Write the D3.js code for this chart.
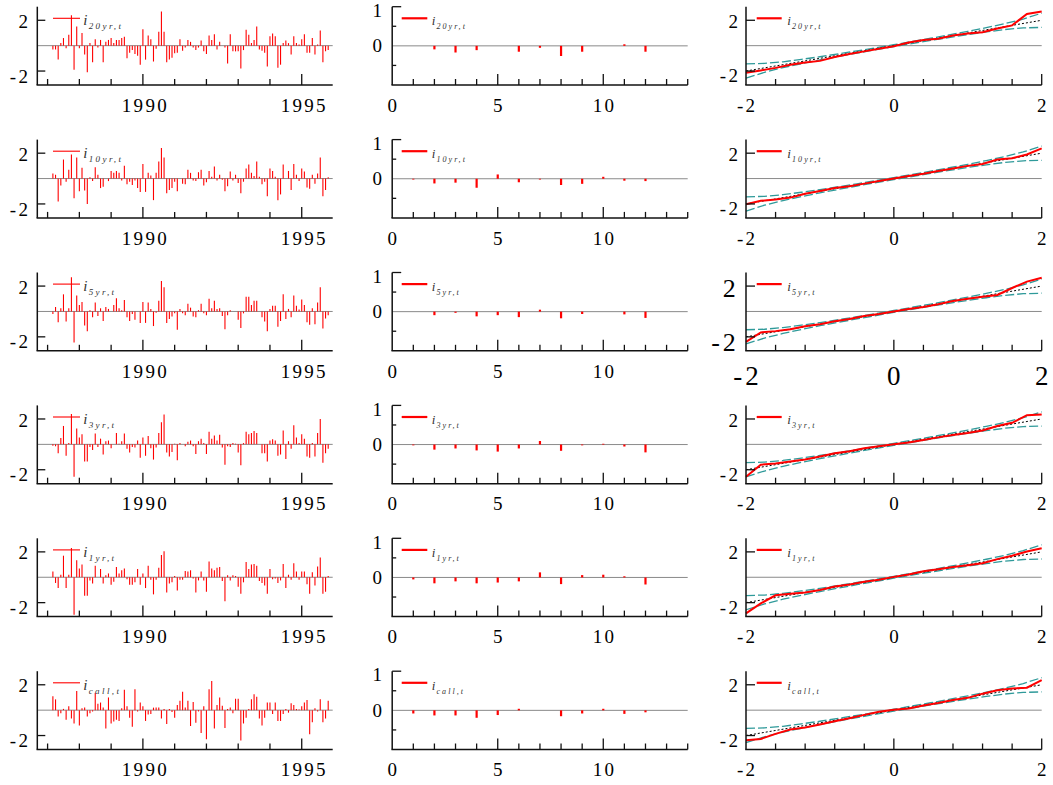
<!DOCTYPE html>
<html><head><meta charset="utf-8">
<script src="https://cdn.jsdelivr.net/npm/d3@7"></script>
<style>
body{margin:0;background:#fff}
svg{display:block}
text{font-family:'Liberation Serif','Times New Roman',serif;fill:#000}
</style>
</head><body>
<svg id="chart" width="1053" height="785"></svg>
<script>
// ---------------- data ----------------
const seriesLabels = ["20yr,t","10yr,t","5yr,t","3yr,t","1yr,t","call,t"];
const startYear = 1987, startMonth = 3; // monthly residuals 1987(3) - 1995(11)

const res20 = [-0.3,-0.3,-1.1,0.2,0.6,-0.2,0.85,2.4,-1.9,1.5,
 -0.2,1.0,-0.7,-2.1,0.2,-1.3,0.5,-0.15,0.45,-1.3,0.3,0.45,
 0.6,0.2,0.45,0.45,0.6,0.7,-1.0,-0.55,-0.35,-0.65,-0.8,-1.5,
 1.3,-1.1,0.8,0.5,-1.25,-0.25,1.1,2.7,1.1,-1.3,-1.1,-0.95,
 -0.6,-0.55,0.5,-0.4,-0.15,0.45,0.3,-0.15,-0.35,-0.15,0.4,-0.45,
 -0.65,0.8,0.45,0.9,-0.3,0.3,0,-0.15,-1.4,0.9,-0.45,-0.45,
 -0.45,-1.8,-0.35,1.25,0.85,0.2,0.45,1.5,-0.3,-0.4,-0.55,-1.65,
 0.75,0.95,0.75,-1.75,-1.5,0.2,0.4,0.2,-0.7,0.75,0.2,0.1,
 0.5,0.9,-0.55,-0.55,0.6,-0.7,0.1,1.2,-1.3,-0.45,-0.35];
const res10 = [0.4,0.3,-1.8,-0.55,1.5,-0.25,0.7,1.9,-1.55,1.65,
 -1.0,0.85,-0.95,-2.0,0.1,-0.2,0.9,0.3,-0.75,-0.65,0,-0.2,
 0.6,0.45,0.6,0.45,-0.15,1.0,-0.45,-0.25,-0.5,-0.15,-0.75,-1.05,
 1.15,-1.05,0.45,0.25,-1.7,0.45,1.35,2.4,1.65,-1.15,-0.9,-0.75,
 -0.25,-1.0,0,-0.4,-0.45,0.7,0.45,-0.15,-0.2,0.5,0.7,-0.55,
 -0.3,0.6,0.15,0.95,-0.15,0.3,-0.1,-1.0,-0.6,0.55,-0.15,0.3,
 -0.35,-1.15,-0.25,0.8,1.1,0.45,0.2,1.35,0.15,-0.45,-0.25,-1.4,
 0.8,0.6,0.15,-1.7,-1.25,1.1,0,0.6,-0.9,1.15,0.3,-0.2,
 0.8,0.55,-0.7,-0.8,0.3,-0.4,0.4,1.65,-1.4,-0.9,0.1];
const res5 = [-0.2,0.35,-0.85,0.25,1.35,-0.8,0.25,2.7,-2.45,1.25,
 0.5,0.75,-1.1,-1.55,0.1,-0.45,0.7,-0.35,0.25,-0.75,0.35,0.2,
 0,0.5,1.05,0.25,0.1,0.9,-0.45,-0.75,-0.2,-0.65,0,-0.9,
 0.75,-0.9,0.7,0.2,-1.15,-0.1,0.85,2.4,1.9,-0.9,-0.6,-0.4,
 -0.15,-1.45,0.2,-0.15,-0.3,0.6,0.3,-0.4,-0.45,0.1,0.6,-0.15,
 -0.3,1.0,0.25,0.85,0.2,0.25,-0.35,-1.4,-0.3,0.1,0,0,
 -0.65,-1.3,-0.15,1.15,1.15,0.5,0.85,0.85,0,-0.45,-0.8,-1.55,
 0.2,0.45,0.45,-1.2,-0.75,1.35,-0.6,0.2,-0.45,1.25,0.45,0.15,
 0.95,0.5,-0.85,-1.05,0.25,-1.0,0.7,1.9,-1.35,-0.55,-0.3];
const res3 = [-0.1,-0.15,-0.7,0.5,1.45,-0.9,0.1,2.4,-2.55,1.25,
 0.55,0.8,-1.35,-1.35,-0.2,-0.45,0.85,-0.2,0.45,-0.8,0.25,0.3,
 -0.3,0,0.9,0.05,0.25,0.85,-0.35,-0.65,-0.2,-0.25,0.3,-1.05,
 0.55,-0.9,0.65,-0.3,-1.2,-0.25,0.9,1.75,2.35,-0.65,-0.95,-0.6,
 0.05,-1.25,0.1,0,-0.15,0.2,0.3,-0.15,-0.75,0.25,0.45,0.1,
 -0.75,1.0,0.45,0.7,0.3,0.75,-0.25,-1.6,-0.15,-0.2,0.1,0.05,
 -0.65,-1.65,0.1,1.0,0.8,0.9,1.05,0.9,0,-0.7,-0.7,-1.35,
 0.3,0.4,0.3,-0.9,-0.8,1.1,-1.15,0.25,-0.35,1.5,0.55,0.1,
 0.8,0.45,-0.95,-1.05,0.1,-0.95,0.9,2.0,-1.45,-0.7,-0.35];
const res1 = [0.45,-0.45,-0.85,0.2,1.7,-0.85,0.2,2.3,-2.95,1.35,
 0.7,1.0,-1.45,-1.45,-0.25,-0.5,0.9,0,0.65,-0.5,0.15,0.3,
 -0.6,-0.35,0.8,0.3,0.55,0.7,-0.15,-0.6,-0.6,-0.4,0.65,-0.6,
 0.3,-0.85,0.9,-0.2,-1.35,-0.2,0.75,1.75,2.05,-1.2,-0.5,-0.4,
 0.1,-1.05,-0.2,-0.2,0.5,0.45,0.55,-0.1,-1.2,-0.25,0.45,-0.25,
 -1.15,1.25,0.7,0.55,0.75,0.8,-0.3,-1.9,0.15,-0.25,0.15,0.1,
 -0.75,-1.3,-0.4,1.2,0.65,1.0,1.05,0.9,-0.3,-0.45,-0.65,-1.3,
 0.65,-0.15,-0.1,-0.45,-0.25,1.05,-0.85,0.2,-0.2,1.1,0.45,-0.2,
 0.45,0.45,-0.55,-1.3,0.4,-0.65,0.85,1.55,-1.3,-1.15,0.1];
const resCall = [1.1,0.85,-0.5,-0.25,0.1,-0.75,0.3,-0.65,-1.05,1.5,
 -1.2,0.15,0.2,-0.5,-0.25,-0.1,1.35,0.5,0.6,0.2,-1.45,1.0,
 -1.05,-0.9,-0.75,-0.85,0.15,1.6,0.3,-0.6,-1.3,1.65,-0.1,0.6,
 0.3,-0.85,-0.35,-0.3,0.2,0.2,0.2,-0.65,0.1,-1.1,0.1,-0.15,
 -0.6,0.4,0.75,1.45,0.2,0.75,-1.25,0.65,-1.0,-0.1,-1.8,0.3,
 -2.3,1.65,2.3,-1.45,0.4,1.0,0.35,-1.4,0.1,0.2,-0.25,0.9,
 0.9,-2.4,-1.05,-0.6,0.1,0.85,1.25,1.05,-0.65,-1.2,-0.6,0.6,
 0.6,-0.3,0.6,-0.85,-0.85,-0.3,0.1,-0.2,0.55,0.4,0.1,0.05,
 0.3,0.6,0.8,-1.9,-0.95,0.15,-0.1,0.85,-0.95,-0.65,0.75];

const lags = [1,2,3,4,5,6,7,8,9,10,11,12];
const acf20   = [0,-0.09,-0.17,-0.11,0,-0.15,-0.05,-0.26,-0.15,0,0.04,-0.15];
const acf10   = [-0.02,-0.12,-0.1,-0.23,0.11,-0.09,-0.02,-0.16,-0.13,0.05,-0.05,-0.06];
const acf5    = [0,-0.09,-0.03,-0.12,-0.09,-0.14,0.05,-0.17,-0.06,0,-0.07,-0.16];
const acf3    = [-0.02,-0.13,-0.1,-0.15,-0.18,-0.1,0.09,-0.16,-0.02,0.02,-0.05,-0.2];
const acf1    = [-0.05,-0.15,-0.1,-0.15,-0.13,-0.1,0.13,-0.17,0.06,0.07,0.03,-0.18];
const acfCall = [-0.08,-0.13,-0.13,-0.19,-0.12,0.04,0,-0.15,-0.08,0.04,-0.09,-0.05];

const qqGrid = [-2,-1.8,-1.6,-1.4,-1.2,-1,-0.8,-0.6,-0.4,-0.2,0,0.2,0.4,0.6,0.8,1,1.2,1.4,1.6,1.8,2];
const qq20   = [-2.13,-1.95,-1.75,-1.5,-1.33,-1.2,-0.9,-0.65,-0.45,-0.25,-0.05,0.25,0.45,0.55,0.8,0.95,1.05,1.35,1.6,2.5,2.7];
const qq10   = [-2.03,-1.75,-1.65,-1.5,-1.2,-0.98,-0.75,-0.6,-0.4,-0.2,0,0.2,0.38,0.6,0.8,1.0,1.15,1.5,1.6,1.9,2.38];
const qq5    = [-2.4,-1.65,-1.55,-1.4,-1.17,-1.0,-0.78,-0.6,-0.35,-0.2,0,0.2,0.35,0.57,0.82,1.0,1.15,1.3,1.85,2.35,2.65];
const qq3    = [-2.55,-1.6,-1.5,-1.35,-1.2,-0.95,-0.7,-0.55,-0.3,-0.15,0,0.15,0.35,0.55,0.73,0.9,1.1,1.45,1.7,2.3,2.35];
const qq1    = [-2.85,-2.06,-1.42,-1.3,-1.2,-1.0,-0.73,-0.57,-0.35,-0.2,0.03,0.22,0.48,0.63,0.8,0.95,1.1,1.43,1.7,2.03,2.28];
const qqCall = [-2.37,-2.27,-1.87,-1.53,-1.37,-1.13,-0.87,-0.63,-0.37,-0.13,0.03,0.13,0.37,0.57,0.8,0.97,1.3,1.57,1.7,1.77,2.37];

const bandX    = [-2,-1.75,-1.5,-1.25,-1,-0.5,0,0.5,1,1.25,1.5,1.75,2];
const bandHalf = [0.56,0.35,0.23,0.17,0.125,0.086,0.076,0.086,0.125,0.17,0.23,0.35,0.56];

const yearTicks = [1987,1988,1989,1990,1991,1992,1993,1994,1995];
const yearLabels = [1990,1995];
const lagTicks = [1,2,3,4,5,6,7,8,9,10,11,12,13,14];
const lagLabels = [0,5,10];
const qqTicks = [-2,-1.6,-1.2,-0.8,-0.4,0,0.4,0.8,1.2,1.6,2];
const qqLabels = [-2,0,2];

const residuals = [res20,res10,res5,res3,res1,resCall];
const acfs = [acf20,acf10,acf5,acf3,acf1,acfCall];
const qqs = [qq20,qq10,qq5,qq3,qq1,qqCall];

// ---------------- drawing ----------------
const svg = d3.select("#chart");
const RED = "#ff0000", TEAL = "#2f9a9a", AX = "#111";
const ROW0 = 6.7, ROWH = 132.9, PH = 78.3;
const LS = 2.3;

function axisLines(g, x0, x1, yTop, yBot){
  g.append("line").attr("x1",x0).attr("x2",x0).attr("y1",yTop).attr("y2",yBot)
    .attr("stroke",AX).attr("stroke-width",1.5);
  g.append("line").attr("x1",x0-0.75).attr("x2",x1).attr("y1",yBot).attr("y2",yBot)
    .attr("stroke",AX).attr("stroke-width",1.5);
}
function zeroLine(g, x0, x1, y){
  g.append("line").attr("x1",x0).attr("x2",x1).attr("y1",y).attr("y2",y)
    .attr("stroke","#8a8a8a").attr("stroke-width",1);
}
function xTicks(g, scale, vals, majors, yBot){
  vals.forEach(v=>{
    const maj = majors.includes(v);
    g.append("line").attr("x1",scale(v)).attr("x2",scale(v))
      .attr("y1",yBot).attr("y2",yBot-(maj?11:6))
      .attr("stroke",AX).attr("stroke-width",1.3);
  });
}
function yTick(g, x0, y, len){
  g.append("line").attr("x1",x0).attr("x2",x0+len).attr("y1",y).attr("y2",y)
    .attr("stroke",AX).attr("stroke-width",1.3);
}
function label(g, x, y, txt, anchor, size, ls){
  g.append("text").attr("x",x).attr("y",y).attr("text-anchor",anchor)
    .style("font-size",size+"px").style("letter-spacing",(ls===undefined?LS:ls)+"px")
    .text(txt);
}
function legend(g, lx0, lx1, lw, ix, top, iSize, sSize, sLs, txt){
  g.append("line").attr("x1",lx0).attr("x2",lx1).attr("y1",top+11.6).attr("y2",top+11.6)
    .attr("stroke",RED).attr("stroke-width",lw);
  g.append("text").attr("x",ix).attr("y",top+18.3)
    .style("font-size",iSize+"px").style("font-style","italic").style("fill","#333").text("i");
  g.append("text").attr("x",ix+iSize*0.36).attr("y",top+22.6)
    .style("font-size",sSize+"px").style("font-style","italic").style("letter-spacing",sLs+"px")
    .style("fill","#333").text(txt);
}

residuals.forEach((res,r)=>{
  const top = ROW0 + r*ROWH, bot = top + PH;
  const g = svg.append("g");

  // ---- left: residual spikes ----
  const xL = d3.scaleLinear().domain([1986.676,1995.975]).range([37.3,332.7]);
  const yL = d3.scaleLinear().domain([-3.1,3.07]).range([bot,top]);
  zeroLine(g, 37.3, 332.7, yL(0));
  g.selectAll(null).data(res).enter().append("line")
    .attr("x1",(d,i)=>xL(startYear+(startMonth-1+i)/12))
    .attr("x2",(d,i)=>xL(startYear+(startMonth-1+i)/12))
    .attr("y1",yL(0)).attr("y2",d=>yL(d))
    .attr("stroke",RED).attr("stroke-width",1.1);
  axisLines(g, 37.3, 332.7, top, bot);
  xTicks(g, xL, yearTicks, yearLabels, bot);
  [2,-2].forEach(v=>{ yTick(g,37.3,yL(v),8);
    label(g, 30.3, yL(v)+(v>0?7.6:11.6), String(v), "end", 19); });
  yearLabels.forEach(v=>label(g, xL(v)+2.5, bot+26.7, String(v), "middle", 19));
  legend(g, 53, 80, 1.1, 83.3, top, 15, 9, 2.4, seriesLabels[r]);

  // ---- middle: ACF ----
  const xM = d3.scaleLinear().domain([0,14]).range([392.2,687.7]);
  const yM = d3.scaleLinear().domain([-1,1]).range([bot,top]);
  zeroLine(g, 392.2, 687.7, yM(0));
  g.selectAll(null).data(acfs[r]).enter().append("line")
    .attr("x1",(d,i)=>xM(lags[i])).attr("x2",(d,i)=>xM(lags[i]))
    .attr("y1",yM(0)).attr("y2",d=>yM(d))
    .attr("stroke",RED).attr("stroke-width",2.2);
  axisLines(g, 392.2, 687.7, top, bot);
  xTicks(g, xM, lagTicks, [5,10], bot);
  yTick(g,392.2,yM(1),9); yTick(g,392.2,yM(0.5),4); yTick(g,392.2,yM(-0.5),4);
  label(g, 384.3, top+10.2, "1", "end", 19);
  label(g, 384.3, yM(0)+6.3, "0", "end", 19);
  lagLabels.forEach(v=>label(g, xM(v)+1.2, bot+26.7, String(v), "middle", 19));
  legend(g, 401.7, 427.3, 2.2, 431.7, top, 13, 8, 2.1, seriesLabels[r]);

  // ---- right: QQ plot ----
  const xR = d3.scaleLinear().domain([-2,2]).range([746,1041.7]);
  const yR = d3.scaleLinear().domain([-3.1,3.07]).range([bot,top]);
  zeroLine(g, 746, 1041.7, yR(0));
  const ln = d3.line().x(d=>xR(d[0])).y(d=>yR(d[1]));
  g.append("path").attr("d", ln(bandX.map((x,i)=>[x, x+bandHalf[i]])))
    .attr("fill","none").attr("stroke",TEAL).attr("stroke-width",1.3).attr("stroke-dasharray","9,3");
  g.append("path").attr("d", ln(bandX.map((x,i)=>[x, x-bandHalf[i]])))
    .attr("fill","none").attr("stroke",TEAL).attr("stroke-width",1.3).attr("stroke-dasharray","9,3");
  g.append("path").attr("d", ln([[qqGrid[0],qqGrid[0]],[qqGrid[qqGrid.length-1],qqGrid[qqGrid.length-1]]]))
    .attr("fill","none").attr("stroke","#000").attr("stroke-width",1).attr("stroke-dasharray","2,2");
  g.append("path").attr("d", ln(qqGrid.map((x,i)=>[x, qqs[r][i]])))
    .attr("fill","none").attr("stroke",RED).attr("stroke-width",2);
  axisLines(g, 746, 1041.7, top, bot);
  xTicks(g, xR, qqTicks.slice(1), [0,2], bot);
  yTick(g,746,yR(2),9); yTick(g,746,yR(-2),9);
  if (r === 2) {
    label(g, 738.5, yR(2)+11, "2", "end", 26, 2.8);
    label(g, 738.5, bot+0.5, "-2", "end", 26, 2.8);
    qqLabels.forEach(v=>label(g, xR(v)+1.4, bot+34, String(v), "middle", 27, 2.8));
  } else {
    label(g, 740.3, yR(2)+7.6, "2", "end", 19);
    label(g, 740.3, yR(-2)+11.2, "-2", "end", 19);
    qqLabels.forEach(v=>label(g, xR(v)+1.2, bot+26.7, String(v), "middle", 19));
  }
  legend(g, 756.7, 781.7, 2.2, 787.3, top, 13, 8, 2.1, seriesLabels[r]);
});
</script>
</body></html>
